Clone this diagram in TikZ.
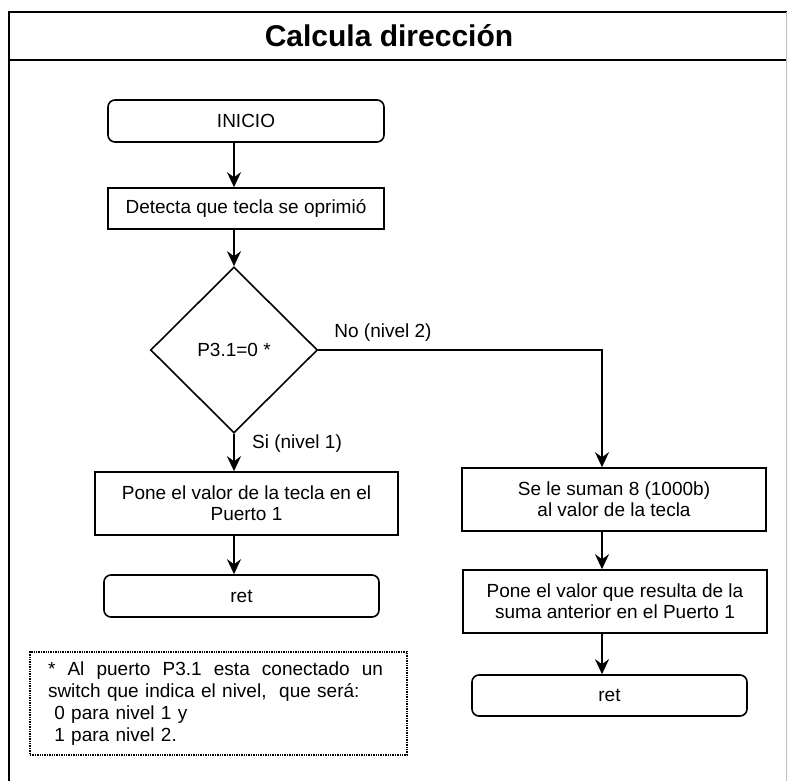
\documentclass[tikz,border=0pt]{standalone}
\usepackage{fontspec}
\setmainfont{Liberation Sans}
\usetikzlibrary{arrows.meta,shapes.geometric}

\tikzset{
  proc/.style={draw, line width=1.6pt, minimum height=42pt, inner sep=2pt, align=center, font=\fontsize{19}{21}\selectfont},
  term/.style={proc, rounded corners=7pt},
  flow/.style={-{Stealth[length=15pt,width=14pt,inset=5pt]}, line width=1.6pt},
  lbl/.style={font=\fontsize{19}{21}\selectfont},
}

\begin{document}
\begin{tikzpicture}[x=1pt,y=-1pt]
            \useasboundingbox (0,0) rectangle (787,781);
            \draw[line width=1.8pt] (9,781) -- (9,12) -- (787,12); % frame
            \draw[line width=1.8pt] (9,60) -- (787,60); % title rule
            \draw[black!25] (786,12) -- (786,781); % right edge
            \node[font=\bfseries\fontsize{30}{30}\selectfont] (titulo) at (389,36) {Calcula dirección};

            % left column
            \node[term, minimum width=276pt] (inicio) at (246,121) {INICIO};
            \node[proc, minimum width=276pt, minimum height=41pt] (detecta) at (246,208.5) {Detecta que tecla se oprimió};
            \node[draw, diamond, line width=1.6pt, minimum width=167pt, minimum height=166pt, inner sep=0pt, lbl] (dec) at (234,350) {P3.1=0 *};
            \node[proc, minimum width=303pt, minimum height=63pt] (pone) at (246.5,503.5) {Pone el valor de la tecla en el\\Puerto 1};
            \node[term, minimum width=275pt] (retA) at (241.5,596) {ret};

            % right column
            \coordinate (rcol) at (602,350);
            \node[proc, minimum width=304pt, minimum height=63pt] (suma) at (614,499.5) {Se le suman 8 (1000b)\\al valor de la tecla};
            \node[proc, minimum width=304pt, minimum height=63pt] (resulta) at (615,601.5) {Pone el valor que resulta de la\\suma anterior en el Puerto 1};
            \node[term, minimum width=275pt, minimum height=41pt] (retB) at (609.5,695.5) {ret};

            % footnote
            \node[draw, densely dotted, line width=1.4pt, text width=341pt, inner xsep=18pt, minimum height=103pt, align=left, font=\fontsize{19}{22}\selectfont] (nota) at (218.5,703.5)
                {\hbox to 335pt{*\hfill Al\hfill puerto\hfill P3.1\hfill esta\hfill conectado\hfill un}\\switch que indica el nivel,\ \ que será:\\\ 0 para nivel 1 y\\\ 1 para nivel 2.};

            \draw[flow] (inicio.south -| dec.north) -- (detecta.north -| dec.north); % INICIO
            \draw[flow] (detecta.south -| dec.north) -- (dec.north); % Detecta
            \draw[flow] (dec.south) -- node[lbl, pos=0.26, anchor=west, xshift=14pt] {Si (nivel 1)} (pone.north -| dec.south); % Si
            \draw[flow] (dec.east) -- node[lbl, pos=0, anchor=south west, xshift=12pt, yshift=4pt] {No (nivel 2)} (rcol) -- (suma.north -| rcol); % No
            \draw[flow] (pone.south -| dec.south) -- (retA.north -| dec.south);
            \draw[flow] (suma.south -| rcol) -- (resulta.north -| rcol);
            \draw[flow] (resulta.south -| rcol) -- (retB.north -| rcol);

        \end{tikzpicture}
\end{document}
